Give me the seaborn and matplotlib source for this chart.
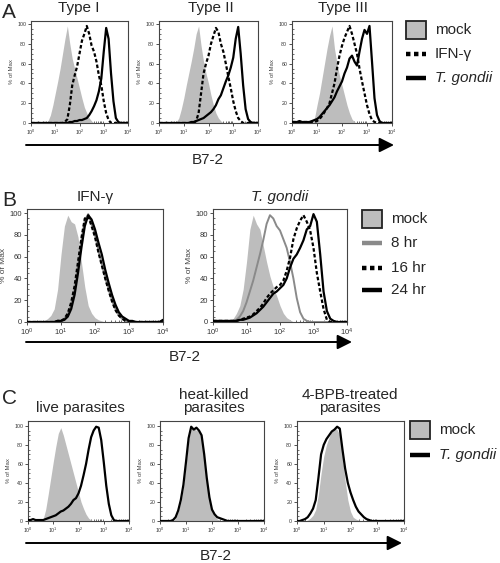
import matplotlib
matplotlib.use("Agg")
import matplotlib.pyplot as plt
import numpy as np
import pandas as pd
import seaborn as sns
from matplotlib.patches import Rectangle
from matplotlib.ticker import MultipleLocator, LogLocator

sns.set_theme(style="white")
plt.rcParams['font.family'] = ['Liberation Sans', 'DejaVu Sans']
plt.rcParams['mathtext.fontset'] = 'custom'
plt.rcParams['mathtext.rm'] = 'Liberation Sans'

# log10 of B7-2 fluorescence, one bin per 0.1 decade
log_fl = [0.0, 0.1, 0.2, 0.3, 0.4, 0.5, 0.6, 0.7, 0.8, 0.9,
          1.0, 1.1, 1.2, 1.3, 1.4, 1.5, 1.6, 1.7, 1.8, 1.9,
          2.0, 2.1, 2.2, 2.3, 2.4, 2.5, 2.6, 2.7, 2.8, 2.9,
          3.0, 3.1, 3.2, 3.3, 3.4, 3.5, 3.6, 3.7, 3.8, 3.9, 4.0]

# ---- panel A (% of max) ----
a1_mock = [0, 0, 0, 0, 0, 0, 0, 2, 8, 18, 30, 42, 55, 70, 85, 98, 80, 65, 55, 45,
           35, 25, 16, 10, 5, 2, 0, 0, 0, 0, 0, 0, 0, 0, 0, 0, 0, 0, 0, 0, 0]
a1_ifn = [0, 0, 0, 0, 0, 0, 0, 0, 0, 0, 0, 0, 0, 0, 1, 4, 18, 38, 48, 57,
          70, 83, 90, 98, 90, 78, 72, 62, 48, 38, 22, 10, 3, 0, 0, 0, 0, 0, 0, 0, 0]
a1_tg = [0, 0, 0, 0, 0, 0, 0, 0, 0, 0, 0, 0, 0, 0, 0, 0, 1, 1, 2, 2,
         3, 3, 4, 5, 8, 12, 17, 23, 32, 45, 72, 96, 85, 50, 22, 5, 1, 0, 0, 0, 0]

a2_mock = [0, 0, 0, 0, 0, 0, 0, 1, 5, 14, 25, 38, 50, 62, 75, 90, 98, 78, 62, 50,
           40, 28, 18, 10, 5, 2, 0, 0, 0, 0, 0, 0, 0, 0, 0, 0, 0, 0, 0, 0, 0]
a2_ifn = [0, 0, 0, 0, 0, 0, 0, 0, 0, 0, 0, 0, 0, 0, 0, 2, 10, 30, 50, 60,
          68, 80, 88, 96, 92, 80, 72, 60, 47, 35, 22, 12, 5, 2, 0, 0, 0, 0, 0, 0, 0]
a2_tg = [0, 0, 0, 0, 0, 0, 0, 0, 0, 0, 0, 0, 0, 1, 1, 2, 3, 4, 5, 7,
         9, 11, 14, 18, 24, 28, 35, 42, 48, 56, 66, 85, 97, 70, 38, 14, 4, 1, 0, 0, 0]

a3_mock = [0, 0, 0, 0, 0, 0, 0, 0, 1, 5, 18, 30, 45, 60, 75, 88, 98, 75, 60, 48,
           38, 28, 18, 10, 4, 1, 0, 0, 0, 0, 0, 0, 0, 0, 0, 0, 0, 0, 0, 0, 0]
a3_ifn = [1, 1, 1, 1, 1, 1, 1, 1, 1, 1, 2, 4, 7, 11, 15, 20, 30, 40, 55, 68,
          78, 86, 92, 98, 90, 80, 70, 55, 42, 30, 18, 9, 3, 1, 0, 0, 0, 0, 0, 0, 0]
a3_tg = [1, 1, 1, 2, 1, 1, 1, 1, 2, 3, 4, 6, 9, 12, 15, 18, 22, 26, 32, 37,
         42, 50, 56, 65, 68, 62, 58, 72, 85, 94, 90, 98, 62, 25, 8, 2, 0, 0, 0, 0, 0]

# ---- panel B (time course) ----
b1_mock = [0, 0, 0, 0, 0, 1, 3, 6, 12, 30, 62, 88, 98, 92, 90, 78, 55, 32, 15, 8,
           4, 2, 1, 0, 0, 0, 0, 0, 0, 0, 0, 0, 0, 0, 0, 0, 0, 0, 0, 0, 0]
b1_8hr = [0, 0, 0, 0, 0, 0, 0, 0, 0, 1, 1, 3, 7, 16, 30, 52, 75, 93, 99, 90,
          80, 66, 53, 41, 30, 20, 12, 6, 3, 1, 0, 0, 0, 0, 0, 0, 0, 0, 0, 0, 0]
b1_16hr = [0, 0, 0, 0, 0, 0, 0, 0, 0, 1, 1, 3, 8, 18, 33, 55, 77, 95, 97, 88,
           78, 64, 52, 40, 29, 19, 11, 6, 3, 1, 0, 0, 0, 0, 0, 0, 0, 0, 0, 0, 0]
b1_24hr = [0, 0, 0, 0, 0, 0, 0, 0, 0, 1, 1, 2, 5, 12, 25, 45, 68, 88, 98, 94,
           85, 73, 62, 48, 36, 25, 16, 9, 5, 3, 1, 1, 0, 0, 0, 0, 0, 0, 0, 0, 2]

b2_mock = [0, 0, 0, 0, 0, 1, 3, 8, 15, 30, 55, 85, 98, 90, 85, 70, 55, 42, 32, 24,
           15, 8, 4, 2, 0, 0, 0, 0, 0, 0, 0, 0, 0, 0, 0, 0, 0, 0, 0, 0, 0]
b2_8hr = [0, 0, 0, 0, 0, 1, 1, 2, 5, 10, 18, 28, 38, 50, 62, 75, 90, 98, 95, 88,
          84, 76, 68, 55, 40, 22, 9, 3, 1, 0, 0, 0, 0, 0, 0, 0, 0, 0, 0, 0, 0]
b2_16hr = [1, 1, 1, 1, 1, 1, 1, 1, 2, 3, 4, 5, 7, 10, 13, 17, 22, 26, 29, 32,
           34, 38, 47, 59, 76, 86, 93, 98, 92, 84, 68, 45, 28, 12, 2, 0, 0, 0, 0, 0, 0]
b2_24hr = [1, 1, 1, 1, 1, 1, 1, 1, 2, 2, 3, 4, 6, 8, 11, 14, 18, 22, 26, 28,
           31, 34, 40, 50, 58, 62, 68, 75, 85, 88, 99, 92, 62, 28, 10, 3, 1, 0, 0, 0, 0]

# ---- panel C (parasite treatment) ----
c1_mock = [0, 0, 0, 0, 0, 0, 2, 12, 28, 45, 62, 78, 92, 98, 90, 80, 70, 60, 50, 40,
           30, 20, 13, 7, 3, 1, 0, 0, 0, 0, 0, 0, 0, 0, 0, 0, 0, 0, 0, 0, 0]
c1_tg = [1, 1, 2, 1, 1, 1, 1, 2, 3, 4, 5, 6, 8, 10, 11, 13, 15, 18, 22, 24,
         29, 37, 48, 60, 75, 88, 95, 99, 98, 85, 62, 37, 18, 6, 1, 0, 0, 0, 0, 0, 0]
c2_mock = [0, 0, 0, 0, 0, 0, 3, 10, 20, 35, 60, 85, 97, 98, 95, 96, 88, 68, 42, 22,
           10, 5, 2, 1, 0, 0, 0, 0, 0, 0, 0, 0, 0, 0, 0, 0, 0, 0, 0, 0, 0]
c2_tg = [0, 0, 0, 0, 0, 1, 4, 11, 22, 38, 62, 87, 99, 96, 98, 95, 90, 70, 45, 25,
         12, 7, 4, 3, 2, 1, 0, 0, 0, 0, 0, 0, 0, 0, 0, 0, 0, 0, 0, 0, 0]
c3_mock = [0, 0, 0, 0, 1, 3, 6, 12, 28, 50, 68, 80, 88, 95, 98, 96, 90, 68, 42, 22,
           10, 4, 2, 1, 0, 0, 0, 0, 0, 0, 0, 0, 0, 0, 0, 0, 0, 0, 0, 0, 0]
c3_tg = [0, 0, 1, 2, 4, 8, 13, 22, 45, 70, 80, 86, 90, 94, 96, 99, 97, 75, 55, 40,
         30, 22, 15, 10, 7, 4, 2, 1, 0, 0, 0, 0, 0, 0, 0, 0, 0, 0, 0, 0, 0]

titles_a = ['Type I', 'Type II', 'Type III']
titles_b = ['IFN-γ', 'T. gondii']
titles_c = ['live parasites', 'heat-killed\nparasites', '4-BPB-treated\nparasites']
legend_a = ['mock', 'IFN-γ', 'T. gondii']
legend_b = ['mock', '8 hr', '16 hr', '24 hr']
legend_c = ['mock', 'T. gondii']

MOCK = '#bdbdbd'
GRAY = '#8a8a8a'
DASH = (0, (1.6, 1.0))

W, H = 500, 563
fig = plt.figure(figsize=(W / 100, H / 100), dpi=100)


def rect(x0, y0, x1, y1):
    return [x0 / W, 1 - y1 / H, (x1 - x0) / W, (y1 - y0) / H]


xs = 10 ** np.array(log_fl)


def hist_panel(box, ytop, mock, curves, fs):
    ax = fig.add_axes(rect(*box))
    ax.set_xscale('log')
    ax.fill_between(xs, mock, color=MOCK, lw=0, zorder=1)
    for vals, col, ls, lw in curves:
        df = pd.DataFrame({'fl': xs, 'pct': vals})
        sns.lineplot(data=df, x='fl', y='pct', ax=ax, color=col, linestyle=ls,
                     linewidth=lw, estimator=None, zorder=3)
    ax.set_xlim(1, 1e4)
    ax.set_ylim(0, ytop)
    ax.set_xticks([1, 10, 100, 1000, 10000])
    ax.xaxis.set_minor_locator(LogLocator(base=10, subs=np.arange(2, 10)))
    ax.set_yticks([0, 20, 40, 60, 80, 100])
    ax.yaxis.set_minor_locator(MultipleLocator(5))
    ax.tick_params(axis='both', which='major', labelsize=fs, length=2, width=0.6,
                   pad=1.5, colors='#333333', direction='out')
    ax.tick_params(axis='both', which='minor', length=1.5, width=0.5,
                   direction='in', colors='#333333')
    ax.tick_params(bottom=True, left=True, which='both')
    ax.set_xlabel('')
    ax.set_ylabel('% of Max', fontsize=fs + 0.5, color='#444444', labelpad=2)
    for s in ax.spines.values():
        s.set_linewidth(0.8)
        s.set_color('#444444')
    return ax


# panel A
hist_panel((31, 21, 128, 123), 103, a1_mock,
           [(a1_ifn, 'black', DASH, 1.6), (a1_tg, 'black', '-', 1.6)], 3.8)
hist_panel((159, 21, 258, 123), 103, a2_mock,
           [(a2_ifn, 'black', DASH, 1.6), (a2_tg, 'black', '-', 1.6)], 3.8)
hist_panel((292, 21, 392, 123), 103, a3_mock,
           [(a3_ifn, 'black', DASH, 1.6), (a3_tg, 'black', '-', 1.6)], 3.8)

# panel B
hist_panel((27, 209, 163, 322), 103.7, b1_mock,
           [(b1_8hr, GRAY, '-', 1.4), (b1_16hr, 'black', DASH, 1.6),
            (b1_24hr, 'black', '-', 1.6)], 5.5)
hist_panel((213, 209, 347, 322), 103.7, b2_mock,
           [(b2_8hr, GRAY, '-', 1.4), (b2_16hr, 'black', DASH, 1.6),
            (b2_24hr, 'black', '-', 1.6)], 5.5)

# panel C
hist_panel((28, 421, 129, 521), 105, c1_mock, [(c1_tg, 'black', '-', 1.6)], 3.8)
hist_panel((160, 421, 264, 521), 105, c2_mock, [(c2_tg, 'black', '-', 1.6)], 3.8)
hist_panel((297, 421, 404, 521), 105, c3_mock, [(c3_tg, 'black', '-', 1.6)], 3.8)

# overlay in pixel coordinates for labels, arrows and legends
ov = fig.add_axes([0, 0, 1, 1], zorder=10)
ov.set_xlim(0, W)
ov.set_ylim(H, 0)
ov.axis('off')
ov.patch.set_alpha(0)

for letter, y in [('A', 12), ('B', 200), ('C', 399)]:
    ov.text(2, y, letter, fontsize=15, va='center', ha='left')

for t, x in zip(titles_a, [79, 211, 343]):
    ov.text(x, 8, t, fontsize=11, ha='center', va='center')
ov.text(95, 197, titles_b[0], fontsize=11, ha='center', va='center')
ov.text(280, 197, titles_b[1], fontsize=11, ha='center', va='center', style='italic')
for t, x in zip(titles_c, [80, 214, 350]):
    ov.text(x, 415, t, fontsize=11, ha='center', va='bottom', linespacing=0.95)

for y, xend, lx, ly in [(145, 394, 208, 160), (342, 352, 185, 357), (543, 402, 216, 556)]:
    ov.annotate('', xy=(xend, y), xytext=(26, y),
                arrowprops=dict(arrowstyle='-|>,head_length=0.8,head_width=0.4',
                                mutation_scale=11, lw=1.4, color='black',
                                shrinkA=0, shrinkB=0))
    ov.text(lx, ly, 'B7-2', fontsize=11, ha='center', va='center')


def legend(x0, ys, labels, styles):
    for y, lab, st in zip(ys, labels, styles):
        if st == 'box':
            ov.add_patch(Rectangle((x0, y - 9), 20, 18, facecolor=MOCK,
                                   edgecolor='#222222', lw=1.3))
        else:
            col, ls = st
            ov.plot([x0, x0 + 20], [y, y], color=col, linestyle=ls, lw=3.2,
                    solid_capstyle='butt')
        ov.text(x0 + 29, y, lab, fontsize=11, va='center', ha='left',
                style='italic' if lab.startswith('T.') else 'normal')


legend(406, [30, 54, 78], legend_a, ['box', ('black', (0, (1, 0.8))), ('black', '-')])
legend(362, [219, 243, 268, 290], legend_b,
       ['box', (GRAY, '-'), ('black', (0, (1, 0.8))), ('black', '-')])
legend(410, [430, 455], legend_c, ['box', ('black', '-')])

fig.savefig('out.png', dpi=100)
